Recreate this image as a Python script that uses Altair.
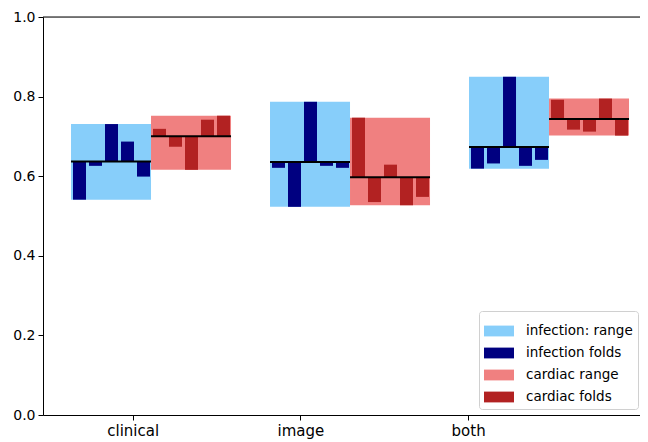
import altair as alt
import numpy as np
import pandas as pd

# ---------------- data ----------------
groups = ["clinical", "image", "both"]
infection_folds = [
    [0.541, 0.626, 0.731, 0.687, 0.599],
    [0.621, 0.523, 0.787, 0.626, 0.621],
    [0.619, 0.632, 0.850, 0.626, 0.641],
]
cardiac_folds = [
    [0.719, 0.674, 0.616, 0.742, 0.752],
    [0.747, 0.535, 0.629, 0.527, 0.548],
    [0.792, 0.717, 0.712, 0.795, 0.702],
]
legend_labels = ["infection: range", "infection folds", "cardiac range", "cardiac folds"]
legend_colors = ["#87CEFA", "#000080", "#F08080", "#B22222"]
y_ticks = [0.0, 0.2, 0.4, 0.6, 0.8, 1.0]

# ---------------- layout constants (axis units: category ticks at 0,1,2) ----------------
PX = 167.7                 # pixels per unit
BOX0 = -61.7 / PX          # left edge of first box relative to first tick
GROUP_STEP = 199 / PX
BOX_W = 80 / PX
BAR_PAD = 2 / PX
BAR_PITCH = 16 / PX
BAR_W = 13 / PX
PLOT_W = 597

box_rows, fold_rows, mean_rows = [], [], []
for g, name in enumerate(groups):
    for t, (task, folds) in enumerate([("infection", infection_folds[g]),
                                       ("cardiac", cardiac_folds[g])]):
        left = BOX0 + g * GROUP_STEP + t * BOX_W
        m = float(np.mean(folds))
        rng_label = legend_labels[0] if task == "infection" else legend_labels[2]
        fold_label = legend_labels[1] if task == "infection" else legend_labels[3]
        box_rows.append(dict(x=left, x2=left + BOX_W, y=min(folds), y2=max(folds),
                             label=rng_label, order=t))
        for i, v in enumerate(folds):
            bx = left + BAR_PAD + i * BAR_PITCH
            fold_rows.append(dict(x=bx, x2=bx + BAR_W, y=m, y2=v, label=fold_label, order=t))
        mean_rows.append(dict(x=left, x2=left + BOX_W, y=m, order=t))

boxes = pd.DataFrame(box_rows)
folds_df = pd.DataFrame(fold_rows)
means = pd.DataFrame(mean_rows)

xscale = alt.Scale(domain=[-0.535, -0.535 + PLOT_W / PX], nice=False, zero=False)
yscale = alt.Scale(domain=[0, 1], nice=False, zero=False)
color = alt.Color(
    "label:N",
    scale=alt.Scale(domain=legend_labels, range=legend_colors),
    legend=alt.Legend(
        title=None, orient="none", legendX=436, legendY=294,
        symbolType="M-1,-0.36H1V0.36H-1Z", symbolSize=900,
        symbolStrokeWidth=0, symbolOpacity=1,
        labelFont="DejaVu Sans", labelFontSize=13.5, labelColor="#000000",
        labelOffset=12, rowPadding=-1.7, padding=5,
        fillColor="rgba(255,255,255,0.8)", strokeColor="#d0d0d0", cornerRadius=3,
    ),
)

label_expr = "[" + ",".join("'%s'" % g for g in groups) + "][datum.value]"
x_axis = alt.Axis(values=list(range(len(groups))), labelExpr=label_expr, title=None,
                  grid=False, labelFont="DejaVu Sans", labelFontSize=15,
                  labelColor="#000000", tickColor="#000000", domainColor="#000000",
                  tickSize=5, labelPadding=3, labelAngle=0)
y_axis = alt.Axis(values=y_ticks, format=".1f", title=None, grid=False,
                  labelFont="DejaVu Sans", labelFontSize=14, labelColor="#000000",
                  tickColor="#000000", domainColor="#000000", tickSize=5, labelPadding=3)

layers = []
for t in [0, 1]:
    b = alt.Chart(boxes[boxes.order == t]).mark_rect().encode(
        x=alt.X("x:Q", scale=xscale, axis=x_axis), x2="x2:Q",
        y=alt.Y("y:Q", scale=yscale, axis=y_axis), y2="y2:Q",
        color=color,
    )
    f = alt.Chart(folds_df[folds_df.order == t]).mark_rect().encode(
        x=alt.X("x:Q", scale=xscale), x2="x2:Q",
        y=alt.Y("y:Q", scale=yscale), y2="y2:Q",
        color=color,
    )
    r = alt.Chart(means[means.order == t]).mark_rule(color="black", strokeWidth=2).encode(
        x=alt.X("x:Q", scale=xscale), x2="x2:Q",
        y=alt.Y("y:Q", scale=yscale),
    )
    layers += [b, f, r]

top = alt.Chart(pd.DataFrame({"y": [1.0]})).mark_rule(color="black", strokeWidth=1).encode(
    y=alt.Y("y:Q", scale=yscale)
)
layers.append(top)

chart = alt.layer(*layers).properties(
    width=PLOT_W, height=398,
    autosize=alt.AutoSizeParams(type="none"),
    padding={"left": 35, "top": 9, "right": 0, "bottom": 26},
).configure_view(stroke=None).configure(background="white")

chart.save("out.html", embed_options={"renderer": "svg", "actions": False})
